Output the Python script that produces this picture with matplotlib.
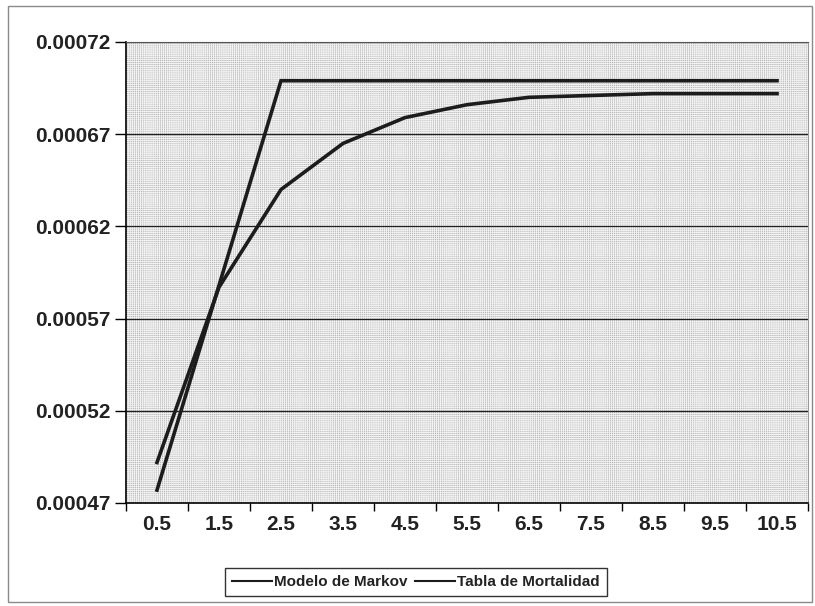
import matplotlib
matplotlib.use("Agg")
import matplotlib.pyplot as plt
from matplotlib.patches import Rectangle
from matplotlib.ticker import FixedLocator, NullFormatter, FuncFormatter

# ---- data ----
categories = ["0.5", "1.5", "2.5", "3.5", "4.5", "5.5", "6.5", "7.5", "8.5", "9.5", "10.5"]
markov = [0.000492, 0.000587, 0.000640, 0.000665, 0.000679, 0.000686,
          0.000690, 0.000691, 0.000692, 0.000692, 0.000692]
tabla = [0.000477, 0.000588, 0.000699, 0.000699, 0.000699, 0.000699,
         0.000699, 0.000699, 0.000699, 0.000699, 0.000699]
series_names = ["Modelo de Markov", "Tabla de Mortalidad"]
y_ticks = [0.00047, 0.00052, 0.00057, 0.00062, 0.00067, 0.00072]

plt.rcParams['font.family'] = ['Liberation Sans', 'DejaVu Sans']
plt.rcParams['hatch.linewidth'] = 0.6
plt.rcParams['hatch.color'] = '#f2f2f2'

fig = plt.figure(figsize=(8.15, 6.06), dpi=100)
fig.patch.set_facecolor('white')
ax = fig.add_axes([126/815, 1-503/606, (808-126)/815, (503-42)/606])

# patterned plot area
ax.set_facecolor('#b8b8b8')
bg = Rectangle((0, 0), 1, 1, transform=ax.transAxes, facecolor='#b8b8b8',
               edgecolor='#f2f2f2', hatch='++++++++', linewidth=0, zorder=0)
ax.add_patch(bg)

x = list(range(len(categories)))
ax.plot(x, markov, color='#1c1c1c', lw=2.6, solid_joinstyle='round', zorder=3,
        label=series_names[0])
ax.plot(x, tabla, color='#1c1c1c', lw=2.6, solid_joinstyle='miter', zorder=3,
        label=series_names[1])

ax.set_xlim(-0.5, len(categories) - 0.5)
ax.set_ylim(y_ticks[0], y_ticks[-1])

# gridlines
for yv in y_ticks[1:]:
    ax.axhline(yv, color='#202020', lw=0.9, zorder=2)

ax.yaxis.set_major_locator(FixedLocator(y_ticks))
ax.yaxis.set_major_formatter(FuncFormatter(lambda v, p: f"{v:.5f}"))
ax.xaxis.set_major_locator(FixedLocator([i - 0.5 for i in range(len(categories) + 1)]))
ax.xaxis.set_major_formatter(NullFormatter())
ax.xaxis.set_minor_locator(FixedLocator(x))
ax.set_xticklabels(categories, minor=True)

ax.tick_params(axis='x', which='major', direction='out', length=6, width=1, color='black')
ax.tick_params(axis='x', which='minor', length=0, pad=9, labelsize=15)
ax.tick_params(axis='y', direction='out', length=8, width=1, color='black',
               labelsize=15, pad=3)
for lab in ax.get_xticklabels(minor=True) + ax.get_yticklabels():
    lab.set_fontweight('bold')
    lab.set_color('#222222')

for s in ['left', 'bottom']:
    ax.spines[s].set_color('black')
    ax.spines[s].set_linewidth(1.2)
ax.spines['top'].set_color('#555555')
ax.spines['right'].set_color('#9a9a9a')

leg = fig.legend(loc='center', bbox_to_anchor=(416/815, 1-582/606), ncol=2,
                 frameon=True, fancybox=False, edgecolor='black',
                 handlelength=2.6, handletextpad=0.15, columnspacing=0.5,
                 borderpad=0.45, prop={'weight': 'bold', 'size': 11})
leg.get_frame().set_linewidth(1.0)
for line in leg.get_lines():
    line.set_linewidth(1.5)
for t in leg.get_texts():
    t.set_color('#222222')

# outer chart border
fig.add_artist(Rectangle((8/815, 4/606), 804/815, 596/606, transform=fig.transFigure,
                         fill=False, edgecolor='#8a8a8a', lw=1.0))

fig.savefig('out.png', dpi=100)
